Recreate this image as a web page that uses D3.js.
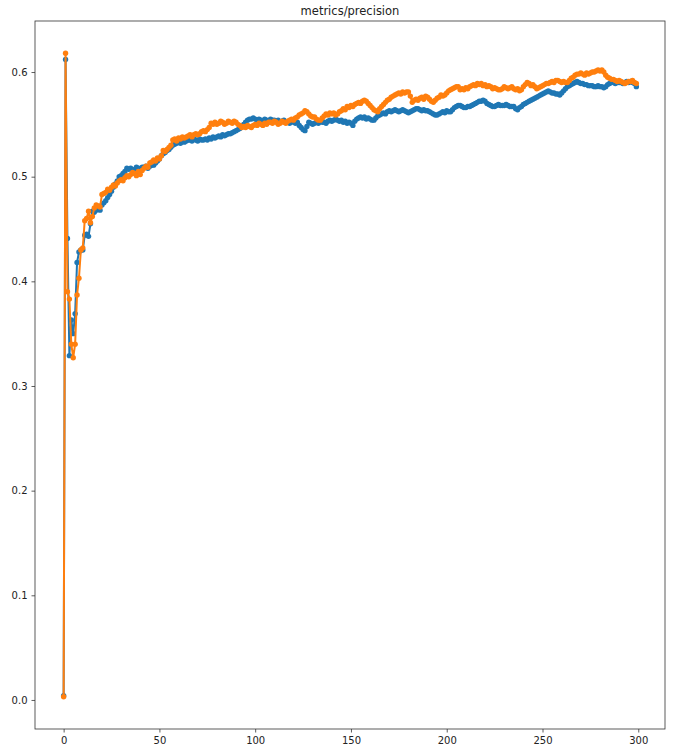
<!DOCTYPE html>
<html>
<head>
<meta charset="utf-8">
<script src="https://cdn.jsdelivr.net/npm/d3@7"></script>
<style>
  html, body { margin: 0; padding: 0; background: #fff; }
  svg { display: block; font-family: "DejaVu Sans", sans-serif; }
</style>
</head>
<body>
<svg id="chart" width="676" height="751"></svg>
<script>
const title = "metrics/precision";
const xTicks = [0, 50, 100, 150, 200, 250, 300];
const yTicks = [0.0, 0.1, 0.2, 0.3, 0.4, 0.5, 0.6];

const seriesBlue = [
  0.004, 0.612, 0.441, 0.329, 0.363, 0.350, 0.369, 0.418, 0.428, 0.430,
  0.430, 0.444, 0.445, 0.443, 0.455, 0.467, 0.466, 0.468, 0.470, 0.468,
  0.473, 0.475, 0.477, 0.480, 0.483, 0.486, 0.490, 0.493, 0.496, 0.500,
  0.501, 0.503, 0.505, 0.508, 0.507, 0.508, 0.506, 0.507, 0.509, 0.508,
  0.507, 0.509, 0.509, 0.510, 0.508, 0.510, 0.511, 0.511, 0.513, 0.515,
  0.517, 0.520, 0.522, 0.523, 0.525, 0.526, 0.528, 0.530, 0.531, 0.532,
  0.533, 0.532, 0.534, 0.533, 0.534, 0.535, 0.535, 0.534, 0.536, 0.535,
  0.534, 0.536, 0.535, 0.535, 0.536, 0.535, 0.537, 0.536, 0.538, 0.537,
  0.538, 0.539, 0.538, 0.540, 0.539, 0.540, 0.541, 0.541, 0.542, 0.543,
  0.544, 0.545, 0.546, 0.548, 0.550, 0.552, 0.554, 0.555, 0.555, 0.556,
  0.555, 0.554, 0.555, 0.554, 0.553, 0.555, 0.554, 0.553, 0.555, 0.554,
  0.554, 0.553, 0.554, 0.552, 0.553, 0.554, 0.552, 0.552, 0.551, 0.553,
  0.552, 0.551, 0.552, 0.549, 0.547, 0.545, 0.544, 0.548, 0.552, 0.551,
  0.550, 0.551, 0.552, 0.551, 0.553, 0.552, 0.552, 0.551, 0.553, 0.554,
  0.553, 0.554, 0.555, 0.554, 0.553, 0.554, 0.552, 0.553, 0.551, 0.552,
  0.551, 0.549, 0.553, 0.555, 0.556, 0.557, 0.556, 0.557, 0.555, 0.556,
  0.555, 0.554, 0.554, 0.556, 0.558, 0.559, 0.560, 0.561, 0.560, 0.562,
  0.563, 0.562, 0.563, 0.564, 0.563, 0.562, 0.563, 0.564, 0.563, 0.562,
  0.561, 0.562, 0.563, 0.564, 0.565, 0.565, 0.564, 0.563, 0.564, 0.563,
  0.563, 0.562, 0.561, 0.560, 0.559, 0.559, 0.560, 0.561, 0.562, 0.561,
  0.563, 0.562, 0.562, 0.564, 0.566, 0.567, 0.568, 0.568, 0.567, 0.566,
  0.566, 0.567, 0.567, 0.568, 0.569, 0.570, 0.571, 0.572, 0.572, 0.573,
  0.572, 0.570, 0.569, 0.568, 0.567, 0.567, 0.568, 0.569, 0.568, 0.568,
  0.568, 0.569, 0.568, 0.567, 0.567, 0.567, 0.565, 0.564, 0.566, 0.567,
  0.569, 0.570, 0.571, 0.572, 0.573, 0.574, 0.575, 0.576, 0.577, 0.578,
  0.579, 0.580, 0.581, 0.582, 0.581, 0.580, 0.580, 0.579, 0.579, 0.578,
  0.580, 0.582, 0.584, 0.586, 0.587, 0.588, 0.589, 0.590, 0.591, 0.590,
  0.589, 0.589, 0.588, 0.588, 0.587, 0.587, 0.587, 0.586, 0.586, 0.587,
  0.586, 0.586, 0.585, 0.586, 0.588, 0.589, 0.590, 0.590, 0.589, 0.590,
  0.590, 0.590, 0.589, 0.590, 0.591, 0.590, 0.591, 0.590, 0.589, 0.586
];

const seriesOrange = [
  0.003, 0.618, 0.390, 0.383, 0.340, 0.327, 0.340, 0.387, 0.403, 0.430,
  0.432, 0.458, 0.460, 0.467, 0.456, 0.462, 0.470, 0.473, 0.472, 0.471,
  0.483, 0.484, 0.485, 0.488, 0.487, 0.490, 0.492, 0.491, 0.494, 0.496,
  0.497, 0.496, 0.499, 0.501, 0.500, 0.502, 0.504, 0.503, 0.501, 0.505,
  0.502, 0.506, 0.508, 0.510, 0.509, 0.513, 0.514, 0.516, 0.515, 0.518,
  0.517, 0.520, 0.525, 0.524, 0.526, 0.528, 0.530, 0.535, 0.536, 0.534,
  0.537, 0.536, 0.538, 0.537, 0.538, 0.539, 0.540, 0.538, 0.540, 0.541,
  0.540, 0.541, 0.543, 0.544, 0.543, 0.545, 0.547, 0.551, 0.550, 0.552,
  0.550, 0.551, 0.553, 0.552, 0.550, 0.551, 0.553, 0.552, 0.551, 0.553,
  0.552, 0.550, 0.549, 0.547, 0.548, 0.547, 0.549, 0.548, 0.547, 0.549,
  0.550, 0.549, 0.551, 0.550, 0.549, 0.551, 0.550, 0.552, 0.552, 0.551,
  0.553, 0.552, 0.550, 0.551, 0.553, 0.552, 0.551, 0.553, 0.554, 0.555,
  0.554, 0.556, 0.557, 0.559, 0.560, 0.561, 0.563, 0.562, 0.560, 0.558,
  0.557, 0.557, 0.555, 0.554, 0.554, 0.556, 0.558, 0.560, 0.559, 0.561,
  0.560, 0.561, 0.559, 0.560, 0.562, 0.563, 0.565, 0.564, 0.567, 0.566,
  0.568, 0.567, 0.569, 0.570, 0.571, 0.570, 0.572, 0.573, 0.572, 0.570,
  0.568, 0.566, 0.564, 0.563, 0.562, 0.565, 0.567, 0.569, 0.571, 0.573,
  0.574, 0.576, 0.577, 0.578, 0.579, 0.580, 0.579, 0.581, 0.580, 0.581,
  0.581, 0.577, 0.571, 0.573, 0.574, 0.573, 0.575, 0.576, 0.574, 0.577,
  0.576, 0.574, 0.572, 0.571, 0.573, 0.575, 0.576, 0.578, 0.577, 0.578,
  0.580, 0.582, 0.583, 0.584, 0.585, 0.586, 0.586, 0.583, 0.584, 0.583,
  0.585, 0.584, 0.586, 0.587, 0.588, 0.587, 0.589, 0.588, 0.589, 0.587,
  0.588, 0.586, 0.587, 0.586, 0.584, 0.585, 0.584, 0.583, 0.583, 0.584,
  0.586, 0.585, 0.584, 0.585, 0.586, 0.584, 0.583, 0.584, 0.582, 0.583,
  0.586, 0.588, 0.590, 0.589, 0.587, 0.588, 0.586, 0.584, 0.585, 0.586,
  0.587, 0.588, 0.589, 0.589, 0.590, 0.591, 0.590, 0.592, 0.592, 0.591,
  0.590, 0.591, 0.590, 0.590, 0.592, 0.594, 0.595, 0.597, 0.598, 0.598,
  0.599, 0.598, 0.597, 0.599, 0.598, 0.599, 0.600, 0.600, 0.601, 0.602,
  0.601, 0.602, 0.600, 0.597, 0.595, 0.594, 0.593, 0.593, 0.592, 0.591,
  0.592, 0.591, 0.590, 0.589, 0.590, 0.591, 0.591, 0.592, 0.590, 0.589
];

const colors = ["#1f77b4", "#ff7f0e"];

const svg = d3.select("#chart");
const margin = { left: 35, right: 11, top: 21, bottom: 22 };
const W = 676, H = 751;
const plotW = W - margin.left - margin.right;
const plotH = H - margin.top - margin.bottom;

const n = seriesBlue.length;
const xPad = (n - 1) * 0.05;
const allVals = seriesBlue.concat(seriesOrange);
const yMin = d3.min(allVals), yMax = d3.max(allVals);
const yPad = (yMax - yMin) * 0.05;

const x = d3.scaleLinear().domain([-xPad, (n - 1) + xPad]).range([margin.left, margin.left + plotW]);
const y = d3.scaleLinear().domain([yMin - yPad, yMax + yPad]).range([margin.top + plotH, margin.top]);

// title
svg.append("text")
  .attr("x", margin.left + plotW / 2)
  .attr("y", 15)
  .attr("text-anchor", "middle")
  .attr("font-size", 11.5)
  .attr("fill", "#222")
  .text(title);

// series
const line = d3.line().x((d, i) => x(i)).y(d => y(d));
[seriesBlue, seriesOrange].forEach((s, k) => {
  const g = svg.append("g");
  g.append("path")
    .datum(s)
    .attr("d", line)
    .attr("fill", "none")
    .attr("stroke", colors[k])
    .attr("stroke-width", 2)
    .attr("stroke-linejoin", "round");
  g.selectAll("circle")
    .data(s)
    .enter().append("circle")
    .attr("cx", (d, i) => x(i))
    .attr("cy", d => y(d))
    .attr("r", 2.7)
    .attr("fill", colors[k]);
});

// axes
const xAxis = d3.axisBottom(x).tickValues(xTicks).tickSize(3.5).tickPadding(4).tickFormat(d3.format("d"));
const yAxis = d3.axisLeft(y).tickValues(yTicks).tickSize(3.5).tickPadding(4).tickFormat(d3.format(".1f"));

const gx = svg.append("g").attr("transform", `translate(0,${margin.top + plotH})`).call(xAxis);
const gy = svg.append("g").attr("transform", `translate(${margin.left},0)`).call(yAxis);
[gx, gy].forEach(g => {
  g.select(".domain").remove();
  g.selectAll(".tick line").attr("stroke", "#333").attr("stroke-width", 0.8);
  g.selectAll(".tick text").attr("font-size", 10).attr("fill", "#222").attr("font-family", "DejaVu Sans, sans-serif");
});

// frame
svg.append("rect")
  .attr("x", margin.left)
  .attr("y", margin.top)
  .attr("width", plotW)
  .attr("height", plotH)
  .attr("fill", "none")
  .attr("stroke", "#333")
  .attr("stroke-width", 0.8);
</script>
</body>
</html>
